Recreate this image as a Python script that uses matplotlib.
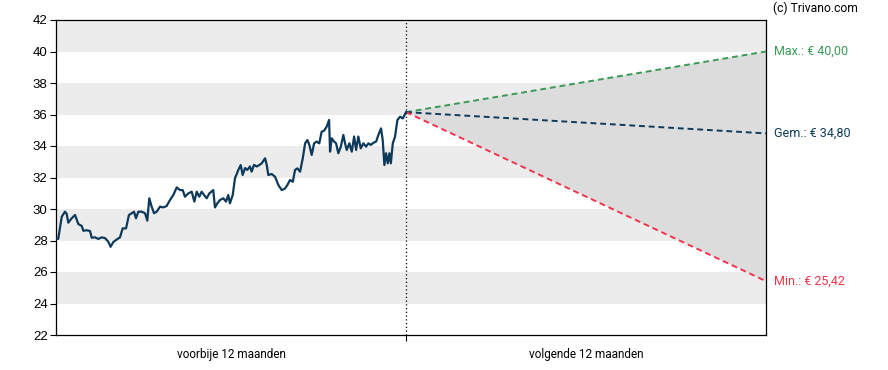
import numpy as np
import matplotlib.pyplot as plt

# koersverloop afgelopen jaar (handelsdag, slotkoers)
days = [0, 1.6, 4.1, 6.4, 7.6, 8.8, 11.2, 13.6, 15.9, 18.4, 19.5, 21.9, 24.3, 25.5, 27.9,
        30.2, 32.6, 35, 37.3, 39, 40.9, 43.3, 45.7, 47.6, 50, 52.1, 54.1, 55.7, 57.1, 58.8,
        61.2, 63.6, 65.2, 66.6, 68.3, 70, 71.9, 74.3, 76.6, 79, 81.4, 83.8, 86.2, 88.6,
        90.5, 92.1, 94.5, 96.9, 98.8, 100.5, 102.3, 104, 105.7, 107.6, 109.5, 112.3, 113.5,
        115.2, 117.1, 119.5, 121.4, 123, 124.2, 126.2, 127.8, 130.2, 131.9, 133.3, 135,
        136.6, 138.5, 139.7, 141.4, 143.3, 145.2, 146.9, 149.3, 150.5, 151.6, 154, 156.4,
        158.8, 161.2, 163.5, 165.2, 167.1, 169.1, 170.7, 172.4, 174.3, 176.2, 177.9, 179.5,
        180.9, 182.6, 184.3, 186.1, 188, 189.7, 191.4, 193.3, 195, 195.7, 196.9, 198.6, 200,
        201.6, 203.4, 205.2, 206.4, 207.6, 209.5, 211.2, 212.9, 214.3, 215.9, 217.6, 219.5,
        221.4, 223.1, 224.8, 226.6, 228.6, 230.2, 232.1, 233.3, 234.5, 235.7, 236.9, 238.1,
        239.1, 240.5, 242.1, 243.8, 245.7, 247.6, 250]
prices = [28.14, 28.1, 29.51, 29.83, 29.7, 29.13, 29.41, 29.62, 29.05, 28.92, 28.62, 28.65,
          28.6, 28.18, 28.2, 28.1, 28.2, 28.15, 27.93, 27.6, 27.9, 28.06, 28.2, 28.77, 28.77,
          29.62, 29.73, 29.83, 29.41, 29.83, 29.83, 29.73, 29.26, 30.68, 30.15, 29.73, 29.83,
          30.15, 30.1, 30.19, 30.57, 30.89, 31.37, 31.2, 31.2, 30.78, 30.99, 31.1, 30.47, 31.1,
          30.78, 31.1, 30.89, 30.68, 30.99, 31.2, 30.1, 30.36, 30.57, 30.68, 30.47, 30.89,
          30.36, 30.89, 31.95, 32.48, 32.79, 32.16, 32.6, 32.48, 32.7, 32.37, 32.8, 32.7,
          32.79, 32.9, 33.22, 32.79, 32.16, 32.22, 32.05, 31.52, 31.2, 31.3, 31.52, 31.84,
          31.73, 32.48, 32.58, 32.37, 33.22, 34.17, 34.38, 34.07, 33.43, 34.17, 34.28, 34.17,
          34.91, 34.97, 35.23, 35.65, 33.64, 34.49, 34.28, 34.17, 33.54, 33.96, 34.7, 34.17,
          33.75, 34.17, 33.64, 34.6, 33.75, 34.6, 33.85, 34.17, 33.96, 34.17, 34.07, 34.2,
          34.28, 34.7, 35.12, 34.38, 32.79, 33.54, 32.9, 33.54, 32.9, 34.17, 34.6, 35.65,
          35.86, 35.75, 36.15]

# koersdoelen over 12 maanden
target_max = 40.00
target_avg = 34.80
target_min = 25.42
horizon = 507

navy = '#0d3a5a'
green = '#3a9a55'
red = '#f2334a'

fig = plt.figure(figsize=(8.88, 3.70), dpi=100)
ax = fig.add_axes([56 / 888, 35 / 370, 710 / 888, 315 / 370])

# grijze banden
for lo in range(24, 42, 4):
    ax.axhspan(lo, lo + 2, color='#ececec', lw=0, zorder=0)

last = prices[-1]
end = days[-1]
ax.fill([end, horizon, horizon], [last, target_max, target_min], color='#dcdcdc', lw=0, zorder=1)

ax.plot(days, prices, color=navy, lw=1.6, zorder=4)
ax.plot([end, horizon], [last, target_max], color=green, lw=1.4, ls=(0, (3, 2)), zorder=3)
ax.plot([end, horizon], [last, target_avg], color=navy, lw=1.4, ls=(0, (3, 2)), zorder=3)
ax.plot([end, horizon], [last, target_min], color=red, lw=1.4, ls=(0, (3, 2)), zorder=3)

ax.axvline(end, color='black', lw=0.9, ls=(0, (1, 2)), zorder=2)

ax.set_xlim(0, horizon)
ax.set_ylim(22, 42)
ax.set_yticks(range(22, 43, 2))
ax.tick_params(axis='y', labelsize=9.5, length=4, width=0.8, pad=2)
for lbl in ax.get_yticklabels():
    lbl.set_family('Liberation Sans')

ax.set_xticks([end])
ax.set_xticklabels([''])
ax.tick_params(axis='x', length=4, width=0.8)
ax.text(end / 2, -0.04, 'voorbije 12 maanden', transform=ax.get_xaxis_transform(),
        ha='center', va='top', fontsize=8.5, family=['Liberation Sans Narrow', 'Roboto'])
ax.text((end + horizon) / 2, -0.04, 'volgende 12 maanden', transform=ax.get_xaxis_transform(),
        ha='center', va='top', fontsize=8.5, family=['Liberation Sans Narrow', 'Roboto'])

for s in ax.spines.values():
    s.set_linewidth(0.9)

# labels rechts
labels = [('Max.: € 40,00', target_max, green),
          ('Gem.: € 34,80', target_avg, navy),
          ('Min.: € 25,42', target_min, red)]
for txt, val, col in labels:
    ax.annotate(txt, xy=(1, val), xycoords=('axes fraction', 'data'),
                xytext=(5.5, 0), textcoords='offset points', color=col, fontsize=9,
                family='Roboto', va='center')

fig.text(773 / 888, 1 - 8 / 370, '(c) Trivano.com', fontsize=8.7, family='Roboto', va='center')

fig.savefig('out.png', dpi=100)
